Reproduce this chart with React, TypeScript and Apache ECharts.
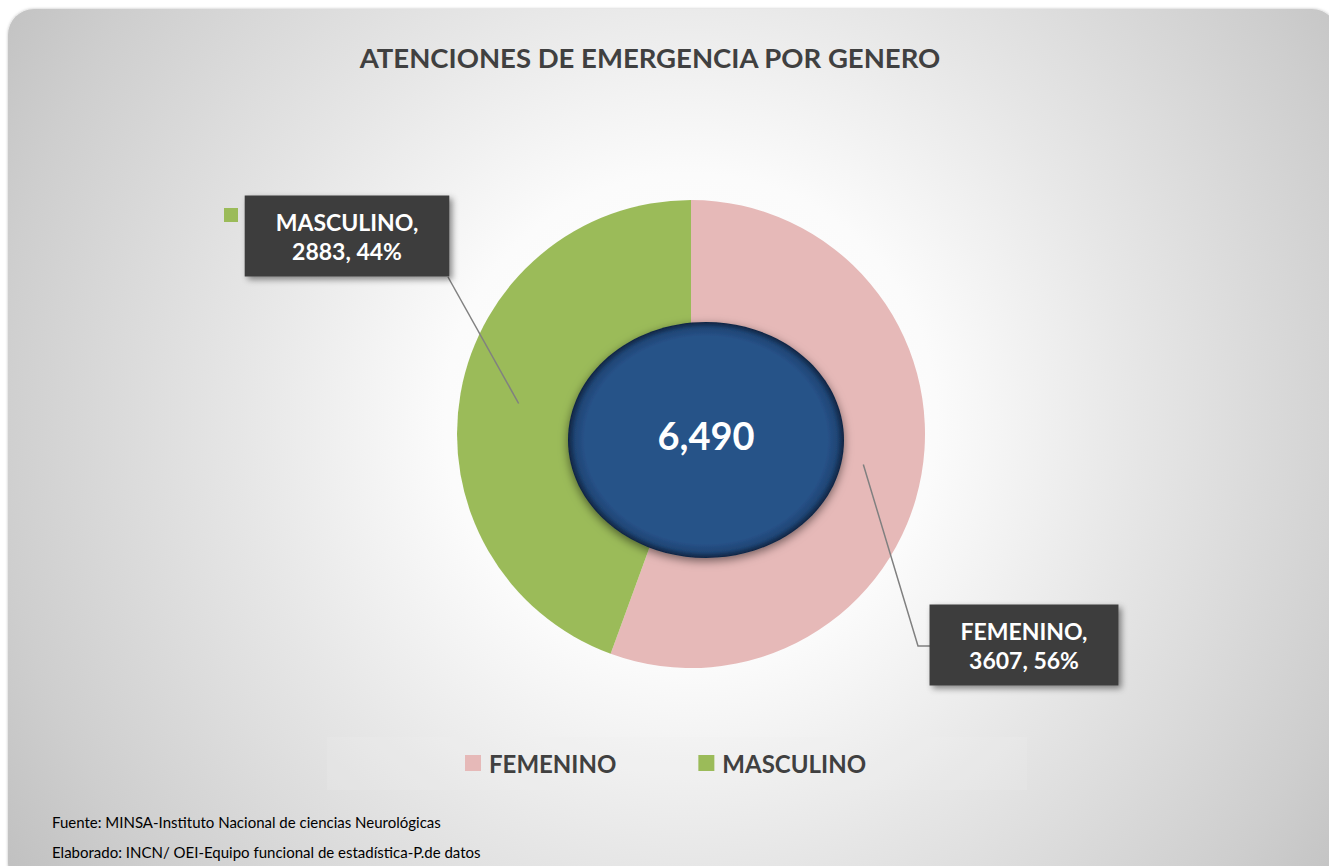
import React, { useEffect, useRef } from "react";
import * as echarts from "echarts";

const TITLE = "ATENCIONES DE EMERGENCIA POR GENERO";
const categories = ["FEMENINO", "MASCULINO"];
const values = [3607, 2883];
const colors = ["#E6B9B8", "#9BBB59"];
const footerLines = [
  "Fuente: MINSA-Instituto Nacional de ciencias Neurológicas",
  "Elaborado: INCN/ OEI-Equipo funcional de estadística-P.de datos",
];

const FONT = "Lato, 'Open Sans', sans-serif";
const CENTER: [number, number] = [691, 434];
const RADIUS = 234;
const LINE_START_R = 175;
// label box centres and leader-line elbows (layout only)
const labelPos = [
  { x: 1024, y: 645, elbow: [[918, 646], [930, 646]] },
  { x: 347, y: 236, elbow: [[448, 277], [448, 277]] },
];

export default function App() {
  const ref = useRef<HTMLDivElement>(null);
  useEffect(() => {
    document.body.style.margin = "0";
    const chart = echarts.init(ref.current!, undefined, { renderer: "svg" });
    const total = values.reduce((a, b) => a + b, 0);
    const mids: number[][] = [];
    let cum = 0;
    values.forEach((v) => {
      const frac = (cum + v / 2) / total;
      const th = 2 * Math.PI * frac;
      mids.push([
        CENTER[0] + LINE_START_R * Math.sin(th),
        CENTER[1] - LINE_START_R * Math.cos(th),
      ]);
      cum += v;
    });
    const data = categories.map((name, i) => ({
      name,
      value: values[i],
      itemStyle: { color: colors[i] },
    }));

    chart.setOption({
      animation: false,
      title: {
        text: TITLE,
        left: 645,
        top: 38,
        textAlign: "center",
        textStyle: { fontFamily: FONT, fontSize: 27.5, fontWeight: "bold", color: "#404040" },
      },
      legend: {
        data: categories,
        left: 465,
        top: 751,
        padding: 0,
        icon: "rect",
        itemWidth: 16,
        itemHeight: 16,
        itemGap: 82,
        selectedMode: false,
        textStyle: { fontFamily: FONT, fontSize: 24, fontWeight: "bold", color: "#404040", padding: [0, 0, 0, 3] },
      },
      graphic: [
        {
          type: "rect",
          z: -10,
          shape: { x: 8, y: 9, width: 1330, height: 880, r: 26 },
          style: {
            fill: {
              type: "radial",
              x: 690,
              y: 420,
              r: 820,
              global: true,
              colorStops: [
                { offset: 0, color: "#ffffff" },
                { offset: 0.3, color: "#fbfbfb" },
                { offset: 0.55, color: "#e6e6e6" },
                { offset: 0.85, color: "#cecece" },
                { offset: 1, color: "#c0c0c0" },
              ],
            },
            shadowBlur: 3,
            shadowColor: "rgba(0,0,0,0.25)",
          },
        },
        {
          type: "rect",
          z: -9,
          shape: { x: 327, y: 737, width: 700, height: 53 },
          style: { fill: "rgba(240,240,240,0.2)" },
        },
        {
          type: "ellipse",
          z: 10,
          shape: { cx: 706, cy: 440, rx: 138, ry: 118 },
          style: {
            fill: {
              type: "radial",
              x: 0.5,
              y: 0.5,
              r: 0.5,
              colorStops: [
                { offset: 0, color: "#275288" },
                { offset: 0.88, color: "#275288" },
                { offset: 0.95, color: "#1f4575" },
                { offset: 1, color: "#0f2442" },
              ],
            },
            shadowBlur: 10,
            shadowColor: "rgba(0,0,0,0.5)",
            shadowOffsetY: 3,
          },
        },
        {
          type: "text",
          z: 11,
          x: 706,
          y: 435,
          style: {
            text: total.toLocaleString("en-US"),
            fontFamily: FONT,
            fontSize: 38,
            fontWeight: "bold",
            fill: "#ffffff",
            align: "center",
            verticalAlign: "middle",
          },
        },
        {
          type: "rect",
          z: 5,
          shape: { x: 224, y: 208, width: 14, height: 14 },
          style: { fill: colors[1] },
        },
        ...footerLines.map((t, i) => ({
          type: "text",
          z: 5,
          x: 52,
          y: 822 + i * 30,
          style: {
            text: t,
            fontFamily: FONT,
            fontSize: 15,
            fill: "#000000",
            align: "left",
            verticalAlign: "middle",
          },
        })),
      ],
      series: [
        {
          type: "pie",
          z: 2,
          center: CENTER,
          radius: [0, RADIUS],
          startAngle: 90,
          clockwise: true,
          silent: true,
          emphasis: { disabled: true },
          data,
          label: { show: false },
          labelLine: { show: false },
        },
        {
          type: "pie",
          z: 12,
          center: CENTER,
          radius: [0, LINE_START_R],
          startAngle: 90,
          clockwise: true,
          percentPrecision: 0,
          silent: true,
          emphasis: { disabled: true },
          data: data.map((d) => ({ ...d, itemStyle: { color: "rgba(0,0,0,0)" } })),
          label: {
            show: true,
            position: "outside",
            formatter: (p: any) => `${p.name},\n${p.value}, ${p.percent}%`,
            fontFamily: FONT,
            fontSize: 23,
            fontWeight: "bold",
            color: "#ffffff",
            lineHeight: 29,
            align: "center",
            backgroundColor: "#3d3d3d",
            padding: [12, 31, 11, 31],
            shadowBlur: 6,
            shadowColor: "rgba(0,0,0,0.45)",
            shadowOffsetX: 3,
            shadowOffsetY: 3,
          },
          labelLine: {
            show: true,
            lineStyle: { color: "#808080", width: 1.5 },
          },
          labelLayout: (params: any) => {
            const i = params.dataIndex;
            const lp = labelPos[i];
            return {
              x: lp.x,
              y: lp.y,
              align: "center",
              verticalAlign: "middle",
              labelLinePoints: [mids[i], lp.elbow[0], lp.elbow[1]],
            };
          },
        },
      ],
    });
    return () => chart.dispose();
  }, []);
  return <div ref={ref} style={{ width: 1329, height: 866 }} />;
}
